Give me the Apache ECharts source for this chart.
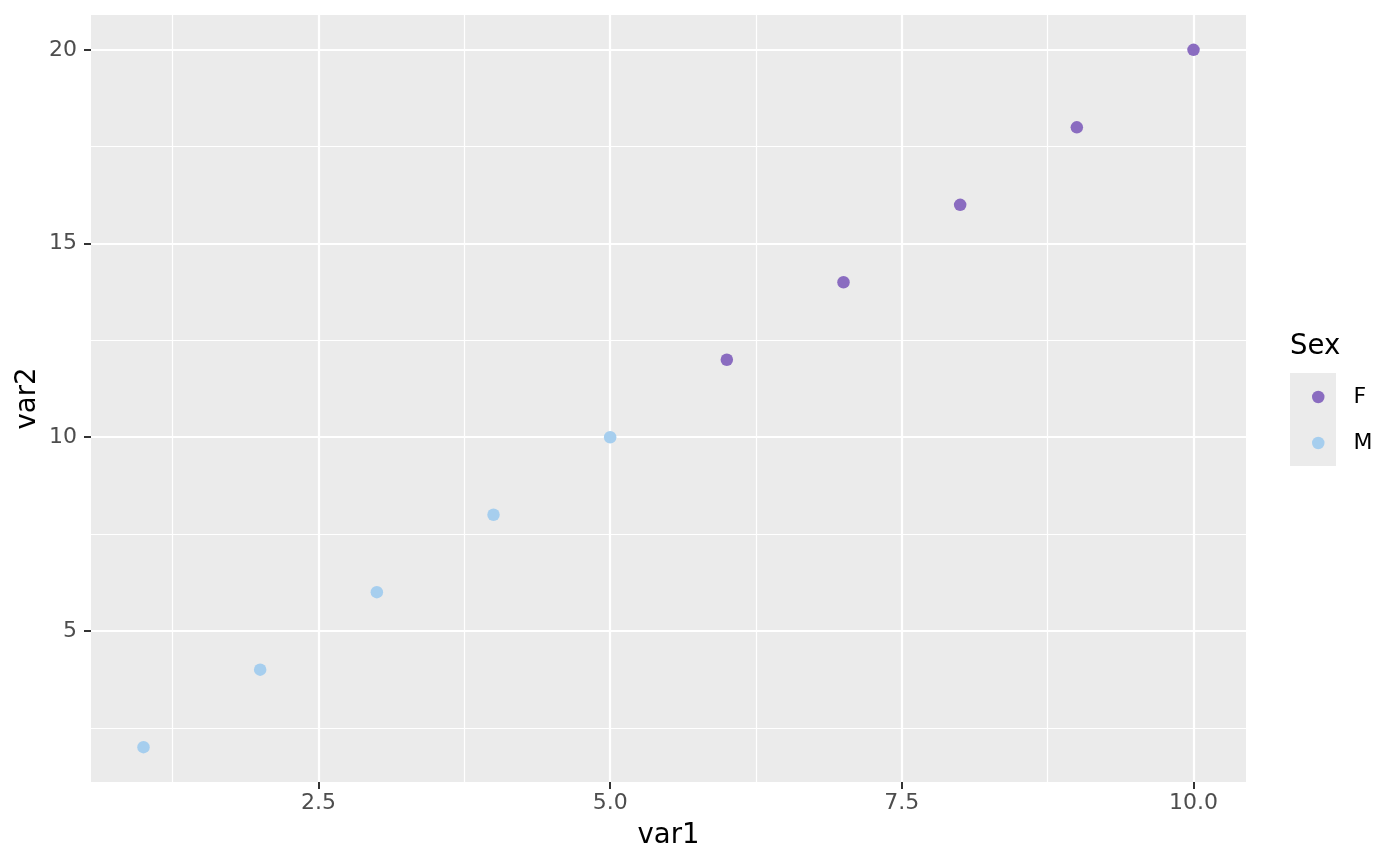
<!DOCTYPE html>
<html>
<head>
<meta charset="utf-8">
<script src="https://cdn.jsdelivr.net/npm/echarts@6/dist/echarts.min.js"></script>
<style>html,body{margin:0;padding:0;background:#fff}#c{width:1400px;height:866px}</style>
</head>
<body>
<div id="c"></div>
<script>
// Data
const var1 = [1, 2, 3, 4, 5, 6, 7, 8, 9, 10];
const var2 = [2, 4, 6, 8, 10, 12, 14, 16, 18, 20];
const sex = ['M', 'M', 'M', 'M', 'M', 'F', 'F', 'F', 'F', 'F'];
const groups = ['F', 'M'];
const xTicks = [2.5, 5.0, 7.5, 10.0];
const yTicks = [5, 10, 15, 20];
const xMinorTicks = [1.25, 3.75, 6.25, 8.75];
const yMinorTicks = [2.5, 7.5, 12.5, 17.5];

const colors = { F: '#8A6CC0', M: '#A6CEEE' };
const font = 'DejaVu Sans';

const gridLines = [];
xMinorTicks.forEach(v => gridLines.push({ xAxis: v, lineStyle: { width: 1.2 } }));
yMinorTicks.forEach(v => gridLines.push({ yAxis: v, lineStyle: { width: 1.2 } }));
xTicks.forEach(v => gridLines.push({ xAxis: v, lineStyle: { width: 2.2 } }));
yTicks.forEach(v => gridLines.push({ yAxis: v, lineStyle: { width: 2.2 } }));

const series = [{
  name: '__grid', type: 'scatter', data: [], z: 1, silent: true,
  markLine: {
    silent: true, symbol: 'none', z: 1, animation: false,
    label: { show: false },
    lineStyle: { color: '#FFFFFF', type: 'solid' },
    emphasis: { disabled: true },
    data: gridLines
  }
}];
groups.forEach(g => {
  const data = [];
  for (let i = 0; i < var1.length; i++) if (sex[i] === g) data.push([var1[i], var2[i]]);
  series.push({
    name: g, type: 'scatter', data, z: 5, symbol: 'circle', symbolSize: 12.5,
    itemStyle: { color: colors[g], opacity: 1 }
  });
});

const chart = echarts.init(document.getElementById('c'));
chart.setOption({
  animation: false,
  backgroundColor: '#FFFFFF',
  grid: { left: 91, right: 154, top: 15, bottom: 84, show: true, backgroundColor: '#EBEBEB', borderWidth: 0 },
  xAxis: {
    type: 'value', min: 0.55, max: 10.45,
    name: 'var1', nameLocation: 'middle', nameGap: 40,
    nameTextStyle: { fontFamily: font, fontSize: 27.5, color: '#000' },
    axisLine: { show: false },
    axisTick: { show: true, customValues: xTicks, length: 7, lineStyle: { color: '#333333', width: 2 } },
    axisLabel: { customValues: xTicks, formatter: v => v.toFixed(1), fontFamily: font, fontSize: 22, color: '#4D4D4D', margin: 10 },
    splitLine: { show: false }, minorSplitLine: { show: false }
  },
  yAxis: {
    type: 'value', min: 1.1, max: 20.9,
    name: 'var2', nameLocation: 'middle', nameGap: 49, nameRotate: 90, nameMoveOverlap: false,
    nameTextStyle: { fontFamily: font, fontSize: 27.5, color: '#000' },
    axisLine: { show: false },
    axisTick: { show: true, customValues: yTicks, length: 7, lineStyle: { color: '#333333', width: 2 } },
    axisLabel: { customValues: yTicks, formatter: v => String(v), fontFamily: font, fontSize: 22, color: '#4D4D4D', margin: 14 },
    splitLine: { show: false }
  },
  legend: {
    data: groups, orient: 'vertical', left: 1307, top: 381,
    icon: 'circle', itemWidth: 12.5, itemHeight: 12.5, itemGap: 24,
    textStyle: { fontFamily: font, fontSize: 22, color: '#000', lineHeight: 20, padding: [0, 0, 0, 24] },
    selectedMode: false
  },
  graphic: [
    { type: 'rect', left: 1290, top: 373, shape: { width: 46, height: 93 }, style: { fill: '#EBEBEB' }, z: -1 },
    { type: 'text', left: 1290, top: 333, style: { text: 'Sex', fontFamily: font, fontSize: 27.5, fill: '#000' } }
  ],
  series
});
</script>
</body>
</html>
